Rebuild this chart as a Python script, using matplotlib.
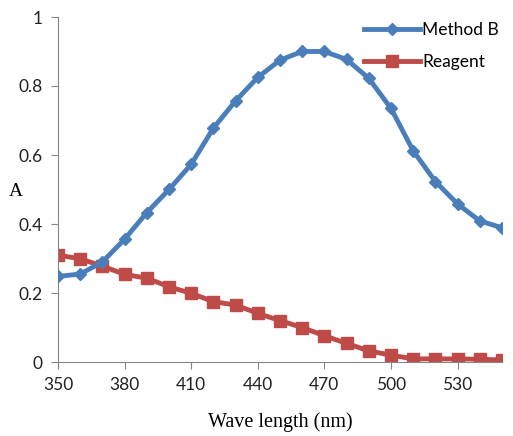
import matplotlib
matplotlib.use("Agg")
import matplotlib.pyplot as plt

wavelength = list(range(350, 551, 10))
method_b = [0.248, 0.255, 0.29, 0.356, 0.433, 0.50, 0.573, 0.678, 0.757, 0.825,
            0.875, 0.900, 0.900, 0.877, 0.822, 0.735, 0.612, 0.523, 0.458, 0.409, 0.389]
reagent = [0.31, 0.299, 0.278, 0.254, 0.243, 0.218, 0.199, 0.175, 0.165, 0.141,
           0.12, 0.10, 0.076, 0.054, 0.032, 0.02, 0.009, 0.009, 0.009, 0.008, 0.006]
xticks = [350, 380, 410, 440, 470, 500, 530]
yticks = [0, 0.2, 0.4, 0.6, 0.8, 1]

blue = "#4a7ebb"
red = "#be4b48"

fig = plt.figure(figsize=(5.13, 4.36), dpi=100)
ax = fig.add_axes([58 / 513, 1 - 362 / 436, 444 / 513, 345 / 436])

ax.plot(wavelength, method_b, color=blue, lw=3.5, marker="D", ms=6,
        mfc=blue, mec=blue, label="Method B", zorder=3)
ax.plot(wavelength, reagent, color=red, lw=3.5, marker="s", ms=8,
        mfc=red, mec=red, label="Reagent", zorder=2)

ax.set_xlim(350, 550)
ax.set_ylim(0, 1)
ax.set_xticks(xticks)
ax.set_yticks(yticks)
ax.set_yticklabels(["0", "0.2", "0.4", "0.6", "0.8", "1"])
for sp in ["top", "right"]:
    ax.spines[sp].set_visible(False)
for sp in ["left", "bottom"]:
    ax.spines[sp].set_color("#868686")
    ax.spines[sp].set_linewidth(0.8)
ax.tick_params(direction="out", length=5, color="#868686", labelsize=12.5,
               labelcolor="#222222", pad=6)
for lab in ax.get_xticklabels() + ax.get_yticklabels():
    lab.set_family(["Lato", "DejaVu Sans"])

ax.set_xlabel("Wave length (nm)", family="Liberation Serif", fontsize=14.5, labelpad=14)
ax.set_ylabel("A", family="Liberation Serif", fontsize=14, rotation=0)
ax.yaxis.set_label_coords(-42 / 444, 162 / 345)

leg = fig.legend(loc="upper left", bbox_to_anchor=(364 / 513, 1 - 22 / 436), frameon=False,
                 handlelength=3.2, labelspacing=0.95, handletextpad=0.15,
                 borderaxespad=0, borderpad=0,
                 prop={"family": ["Lato", "DejaVu Sans"], "size": 12.5})

fig.savefig("out.png", dpi=100)
